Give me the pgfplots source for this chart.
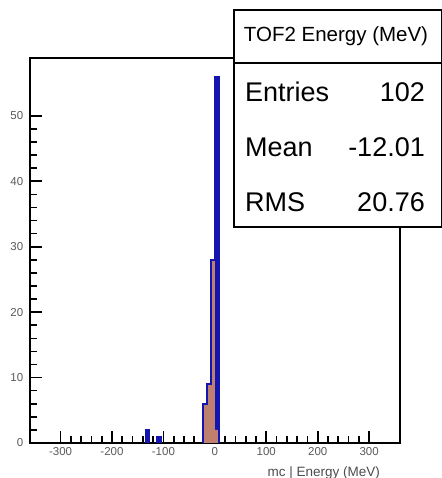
\documentclass[border=0pt]{standalone}
\usepackage{pgfplots}
\pgfplotsset{compat=1.18}
\usepackage{fontspec}
\setmainfont{Liberation Sans}
\definecolor{hblue}{RGB}{20,20,175}
\definecolor{hbrown}{RGB}{192,128,112}
\begin{document}
\begin{tikzpicture}[x=1pt,y=1pt]
\useasboundingbox (0,0) rectangle (441,478);
\begin{axis}[at={(29.7pt,35pt)}, anchor=south west, scale only axis,
  width=370.3pt, height=384.7pt,
  xmin=-360, xmax=360, ymin=0, ymax=58.8,
  axis line style={line width=1.8pt},
  xtick={-300,-200,...,300}, minor x tick num=4,
  ytick={0,10,...,50}, minor y tick num=4,
  tick align=inside, xtick pos=bottom, ytick pos=left,
  major tick length=12pt, minor tick length=7pt,
  every tick/.style={line width=1.6pt, black},
  ticklabel style={font=\fontsize{11.5}{11.5}\selectfont, text=black!65},
  yticklabel style={xshift=-3pt},
  xticklabel style={yshift=-1pt},
  /pgf/number format/assume math mode=true,
  xlabel={mc | Energy (MeV)},
  xlabel style={at={(axis description cs:0.946,0)}, anchor=base east, yshift=-33pt, inner sep=0pt,
    font=\fontsize{13.5}{13.5}\selectfont, text=black!70},
]
% data histogram, filled
\addplot[fill=hblue, draw=none] coordinates {(-22.5,0)(-22.5,6)(-15,6)(-15,9)(-7.5,9)(-7.5,28)(0,28)(0,56)(7.5,56)(7.5,0)};
\addplot[fill=hblue, draw=none] coordinates {(-135,0)(-135,2)(-127.5,2)(-127.5,0)};
\addplot[fill=hblue, draw=none] coordinates {(-112.5,0)(-112.5,1)(-105,1)(-105,0)};
% brown overlay
\addplot[fill=hbrown, draw=none] coordinates {(-22.5,0)(-22.5,6)(-15,6)(-15,9)(-7.5,9)(-7.5,28)(0,28)(0,2)(7.5,2)(7.5,0)};
% outline
\addplot[draw=hblue, line width=1.7pt] coordinates {(-22.5,0)(-22.5,6)(-15,6)(-15,9)(-7.5,9)(-7.5,28)(0,28)(0,56)(7.5,56)(7.5,0)};
\addplot[draw=hblue, line width=1.7pt] coordinates {(-135,0)(-135,2)(-127.5,2)(-127.5,0)};
\addplot[draw=hblue, line width=1.7pt] coordinates {(-112.5,0)(-112.5,1)(-105,1)(-105,0)};
\end{axis}
% stats box
\fill[white] (234,251) rectangle (442,468);
\draw[line width=1.3pt] (234,251) rectangle (442,468);
\draw[line width=1.3pt] (234,415) -- (442,415);
\node[font=\fontsize{20.5}{20.5}\selectfont, inner sep=0pt] at (336,441.5) {TOF2 Energy (MeV)};
\tikzset{st/.style={font=\fontsize{27}{27}\selectfont, inner sep=0pt}}
\node[st, anchor=base west] at (245,376.3) {Entries};
\node[st, anchor=base east] at (425,376.3) {102};
\node[st, anchor=base west] at (245,321.3) {Mean};
\node[st, anchor=base east] at (425,321.3) {-12.01};
\node[st, anchor=base west] at (245,266.3) {RMS};
\node[st, anchor=base east] at (425,266.3) {20.76};
\end{tikzpicture}
\end{document}
